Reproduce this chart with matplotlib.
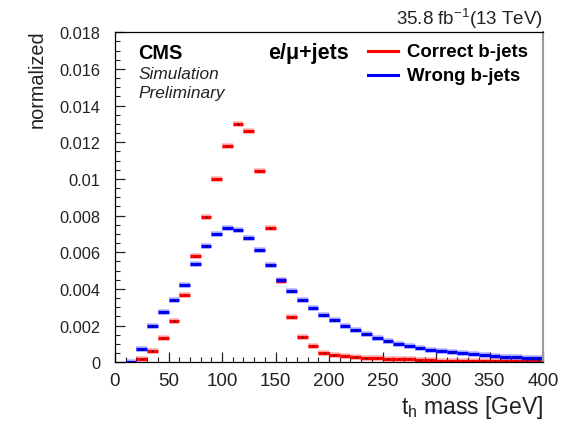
import numpy as np
import matplotlib
matplotlib.use('Agg')
import matplotlib.pyplot as plt
from matplotlib.ticker import MultipleLocator, FuncFormatter

# bin edges in GeV (10 GeV bins, 0-400)
bin_edges = np.arange(0, 410, 10)

# normalized distributions (nan = empty bin)
correct_bjets = [np.nan, np.nan, 0.00018, 0.00063, 0.00133, 0.00224, 0.00369, 0.00580,
                 0.00793, 0.00998, 0.01181, 0.01298, 0.01260, 0.01042, 0.00733, 0.00446,
                 0.00249, 0.00140, 0.00087, 0.00052, 0.00040, 0.00034, 0.00027, 0.00022,
                 0.00022, 0.00020, 0.00016, 0.00016, 0.00015, 0.00010, 0.00009, 0.00008,
                 0.00008, 0.00007, 0.00007, 0.00006, 0.00006, 0.00005, 0.00005, 0.00005]
wrong_bjets = [np.nan, 0.00003, 0.00073, 0.00196, 0.00276, 0.00340, 0.00422, 0.00536,
               0.00636, 0.00700, 0.00733, 0.00722, 0.00680, 0.00611, 0.00532, 0.00451,
               0.00389, 0.00340, 0.00298, 0.00260, 0.00229, 0.00196, 0.00175, 0.00154,
               0.00133, 0.00116, 0.00100, 0.00090, 0.00080, 0.00069, 0.00062, 0.00055,
               0.00049, 0.00043, 0.00039, 0.00035, 0.00030, 0.00027, 0.00024, 0.00022]

series = [(correct_bjets, '#ff0000', 'Correct b-jets'),
          (wrong_bjets, '#0000ff', 'Wrong b-jets')]

W, H = 561, 427
plt.rcParams['font.family'] = ['Liberation Sans', 'DejaVu Sans']
plt.rcParams['mathtext.fontset'] = 'custom'
plt.rcParams['mathtext.rm'] = 'Liberation Sans'

fig = plt.figure(figsize=(W / 100, H / 100), dpi=100)
ax = fig.add_axes([115 / W, 1 - 363.3 / H, (543 - 115) / W, (363.3 - 33.3) / H])


def fx(x):
    return x / W


def fy(y):
    return 1 - y / H


lo, hi = bin_edges[:-1], bin_edges[1:]
centers = (lo + hi) / 2
for vals, col, lab in series:
    v = np.asarray(vals, dtype=float)
    ax.hlines(v, lo, hi, colors=col, linewidth=4.0, alpha=0.3)
    ax.hlines(v, lo, hi, colors=col, linewidth=2.3)
    ax.plot(centers, v, 'o', color='black', ms=1.0, mew=0)

ax.set_xlim(0, 400)
ax.set_ylim(0, 0.018)
ax.xaxis.set_major_locator(MultipleLocator(50))
ax.xaxis.set_minor_locator(MultipleLocator(10))
ax.yaxis.set_major_locator(MultipleLocator(0.002))
ax.yaxis.set_minor_locator(MultipleLocator(0.0005))
ax.yaxis.set_major_formatter(FuncFormatter(lambda v, p: '%g' % round(v, 4)))
ax.tick_params(which='both', direction='in', top=False, right=False, colors='#222222')
ax.tick_params(which='major', length=7, width=0.9)
ax.tick_params(which='minor', length=3.5, width=0.8)
ax.tick_params(axis='x', which='major', labelsize=13.5, pad=7)
ax.tick_params(axis='y', which='major', labelsize=11.8, pad=10.5)
for s in ['left', 'bottom', 'top']:
    ax.spines[s].set_linewidth(0.9)
ax.spines['right'].set_color('#999999')
ax.spines['right'].set_linewidth(1.5)

fig.text(fx(543), fy(408), r'$\mathregular{t_h}$ mass [GeV]', ha='right', va='center',
         fontsize=16.5, color='#222222')
fig.text(fx(37), fy(30), 'normalized', rotation=90, ha='center', va='top',
         fontsize=14.3, color='#222222')
fig.text(fx(543), fy(25), r'35.8 fb$^{\mathregular{-1}}$(13 TeV)', ha='right',
         va='baseline', fontsize=13.5, color='#222222')

fig.text(fx(138.3), fy(59), 'CMS', fontweight='bold', fontsize=14.3, va='baseline')
fig.text(fx(138.3), fy(79), 'Simulation', style='italic', fontsize=12.4, va='baseline',
         color='#222222')
fig.text(fx(138.3), fy(97.7), 'Preliminary', style='italic', fontsize=12.4, va='baseline',
         color='#222222')
fig.text(fx(268.3), fy(59), 'e/\u03bc+jets', fontweight='bold', fontsize=15.5,
         va='baseline')

for i, (vals, col, lab) in enumerate(series):
    ly = 52.3 + i * 24
    fig.add_artist(plt.Line2D([fx(368), fx(398)], [fy(ly), fy(ly)], color=col, lw=2.2))
    fig.text(fx(406.7), fy(ly + 4.3), lab, fontweight='bold', fontsize=13.4, va='baseline')

fig.savefig('out.png', dpi=100)
